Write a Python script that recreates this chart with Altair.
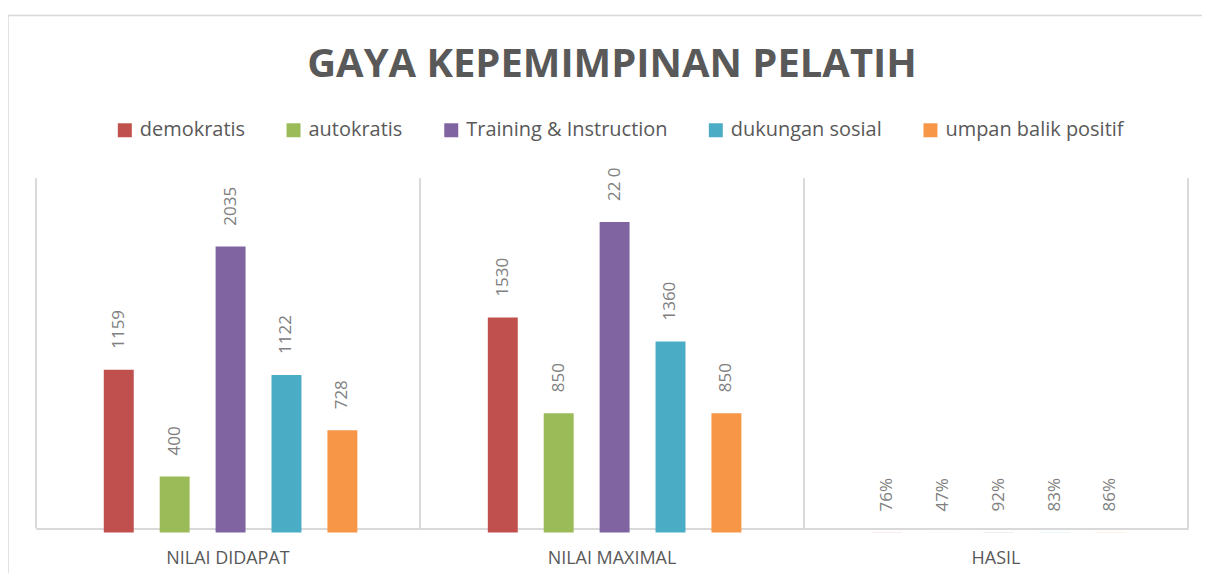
import altair as alt
import pandas as pd

categories = ["NILAI DIDAPAT", "NILAI MAXIMAL", "HASIL"]
series = ["demokratis", "autokratis", "Training & Instruction", "dukungan sosial", "umpan balik positif"]
colors = ["#C0504D", "#9BBB59", "#8064A2", "#4BACC6", "#F79646"]

nilai_didapat = [1159, 400, 2035, 1122, 728]
nilai_maximal = [1530, 850, 2210, 1360, 850]
hasil = [0.76, 0.47, 0.92, 0.83, 0.86]

label_didapat = ["1159", "400", "2035", "1122", "728"]
label_maximal = ["1530", "850", "22 0", "1360", "850"]
label_hasil = ["76%", "47%", "92%", "83%", "86%"]

rows = []
for cat, vals, labs in zip(categories,
                           [nilai_didapat, nilai_maximal, hasil],
                           [label_didapat, label_maximal, label_hasil]):
    for s, v, l in zip(series, vals, labs):
        rows.append({"kategori": cat, "seri": s, "nilai": v, "label": l})
df = pd.DataFrame(rows)
cat_df = pd.DataFrame({"kategori": categories})

W, H = 1154, 355

x_enc = alt.X("kategori:N", sort=categories,
              scale=alt.Scale(paddingInner=0, paddingOuter=0), title=None)
xo_enc = alt.XOffset("seri:N", sort=series,
                     scale=alt.Scale(paddingInner=0, paddingOuter=0.9345, align=0.525))
y_enc = alt.Y("nilai:Q", scale=alt.Scale(domain=[0, 2522], nice=False), axis=None)

base = alt.Chart(df)
one = pd.DataFrame({"a": [0]})

frame_top = alt.Chart(one).mark_rule(color="#d9d9d9", strokeWidth=1.5).encode(
    x=alt.value(-28), x2=alt.value(W + 300), y=alt.value(-163),
)
frame_left = alt.Chart(one).mark_rule(color="#d9d9d9", strokeWidth=1.5).encode(
    x=alt.value(-28), y=alt.value(-163), y2=alt.value(H + 200),
)

seps = alt.Chart(cat_df).mark_rule(color="#d9d9d9", strokeWidth=2).encode(
    x=alt.X("kategori:N", sort=categories, bandPosition=0, title=None),
    y=alt.value(0), y2=alt.value(H - 4),
)
right_edge = alt.Chart(one).mark_rule(color="#d9d9d9", strokeWidth=2).encode(
    x=alt.value(W), y=alt.value(0), y2=alt.value(H - 4),
)

bars = base.mark_bar(size=30).encode(
    x=x_enc, xOffset=xo_enc, y=y_enc,
    color=alt.Color("seri:N", sort=series,
                    scale=alt.Scale(domain=series, range=colors),
                    legend=alt.Legend(title=None, orient="none", legendX=79, legendY=-58,
                                      direction="horizontal")),
)

labels = base.mark_text(
    angle=270, align="left", baseline="middle", dx=21,
    font="Open Sans", fontSize=17, color="#808080",
).encode(
    x=x_enc, xOffset=xo_enc, y=y_enc, text="label:N",
)

chart = alt.layer(frame_top, frame_left, seps, right_edge, bars, labels).properties(
    width=W, height=H,
    title=alt.Title("GAYA KEPEMIMPINAN PELATIH", font="Open Sans", fontSize=40,
                    fontWeight="bold", color="#595959", anchor="middle", offset=-70),
    autosize=alt.AutoSizeParams(type="none"),
    padding={"left": 28, "top": 170, "right": 14, "bottom": 40},
).configure_view(stroke=None).configure_axisX(
    domainColor="#d9d9d9", domainWidth=2, ticks=False, grid=False, labelAngle=0,
    labelFont="Open Sans", labelFontSize=18, labelColor="#595959", labelPadding=21,
    offset=-4, zindex=1,
).configure_legend(
    labelFont="Open Sans", labelFontSize=20, labelColor="#595959",
    symbolType="square", symbolSize=196, symbolStrokeWidth=0, labelOffset=5,
    columnPadding=38, padding=0, labelLimit=0,
)

chart.save("out.html", embed_options={"renderer": "svg", "actions": False})
